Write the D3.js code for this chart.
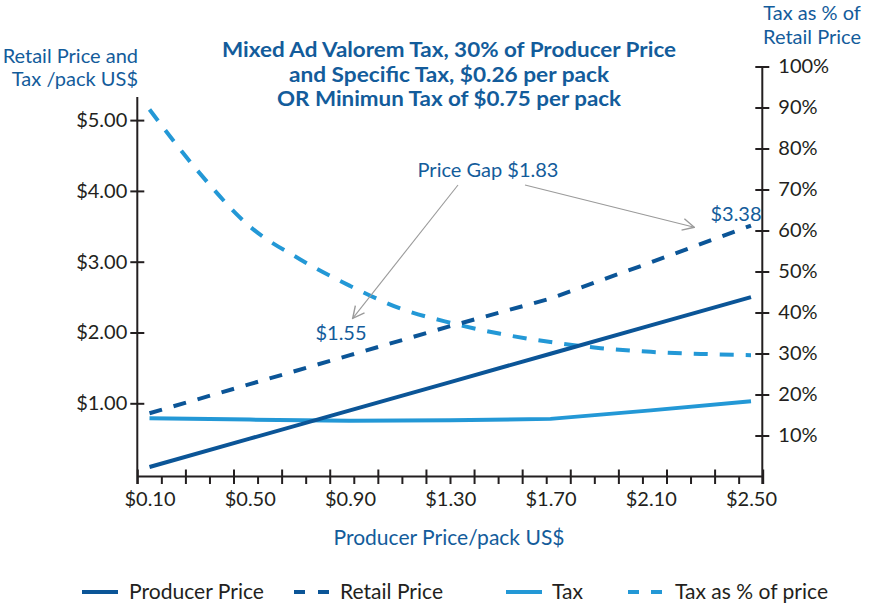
<!DOCTYPE html>
<html>
<head>
<meta charset="utf-8">
<script src="https://cdn.jsdelivr.net/npm/d3@7"></script>
<style>
  html, body { margin: 0; padding: 0; background: #ffffff; }
  svg { display: block; font-family: Lato, "Open Sans", sans-serif; }
</style>
</head>
<body>
<svg id="chart" width="872" height="608"></svg>
<script>
// ---------- data ----------
const producerPrices = [0.10, 0.50, 0.90, 1.30, 1.70, 2.10, 2.50];
const producerPrice  = [0.10, 0.50, 0.90, 1.30, 1.70, 2.10, 2.50];
const retailPrice    = [0.86, 1.27, 1.68, 2.09, 2.48, 2.99, 3.51];
const taxValue       = [0.79, 0.77, 0.755, 0.76, 0.78, 0.90, 1.03];
const pctPrices      = [0.10, 0.30, 0.50, 0.70, 0.90, 1.10, 1.30, 1.50, 1.70, 1.90, 2.10, 2.30, 2.50];
const taxPercent     = [89.5, 74, 61, 53, 46.5, 41, 37.5, 34.8, 32.8, 31.3, 30.4, 29.9, 29.6];
const xTickLabels    = [0.10, 0.50, 0.90, 1.30, 1.70, 2.10, 2.50];
const leftTicks      = [1, 2, 3, 4, 5];
const rightTicks     = [10, 20, 30, 40, 50, 60, 70, 80, 90, 100];
const seriesNames    = ["Producer Price", "Retail Price", "Tax", "Tax as % of price"];
const titleLines     = ["Mixed Ad Valorem Tax, 30% of Producer Price",
                        "and Specific Tax, $0.26 per pack",
                        "OR Minimun Tax of $0.75 per pack"];
const titleWidths    = [454, 320, 344];

// ---------- styles ----------
const DARK = "#0b5597", LIGHT = "#2398d6", TXT = "#135c9b", INK = "#231f20", GREY = "#9a9a9a";

const svg = d3.select("#chart");

// ---------- scales ----------
const x  = d3.scaleLinear().domain([0.10, 2.50]).range([149.5, 751]);
const yL = d3.scaleLinear().domain([0, 5]).range([474.1, 120.1]);
const yR = d3.scaleLinear().domain([0, 100]).range([476.5, 66.5]);
const tickIdx = d3.scaleLinear().domain([0, 26]).range([137.3, 762.7]);

const axisLeftX = 137.3, axisRightX = 762.3, axisY = 476.5;

// ---------- axes ----------
const gL = svg.append("g").attr("transform", `translate(${axisLeftX},0)`)
  .call(d3.axisLeft(yL).tickValues(leftTicks).tickFormat(d => "$" + d.toFixed(2)).tickSizeOuter(0));
gL.select(".domain").remove();
gL.append("line").attr("x1", 0).attr("x2", 0).attr("y1", 97).attr("y2", 484)
  .attr("stroke", INK).attr("stroke-width", 2);
gL.selectAll(".tick line").attr("x1", 7).attr("x2", -7).attr("stroke", INK).attr("stroke-width", 2);
gL.selectAll(".tick text").attr("x", -10).attr("fill", INK)
  .style("font-size", "20px").style("font-family", "Lato, sans-serif");

const gR = svg.append("g").attr("transform", `translate(${axisRightX},0)`)
  .call(d3.axisRight(yR).tickValues(rightTicks).tickFormat(d => d + "%").tickSizeOuter(0));
gR.select(".domain").remove();
gR.append("line").attr("x1", 0).attr("x2", 0).attr("y1", yR(100)).attr("y2", 484)
  .attr("stroke", INK).attr("stroke-width", 2);
gR.selectAll(".tick line").attr("x1", -7).attr("x2", 7).attr("stroke", INK).attr("stroke-width", 2);
gR.selectAll(".tick text").attr("x", 16).attr("fill", INK)
  .style("font-size", "20px").style("font-family", "Lato, sans-serif");

const gXT = svg.append("g").attr("transform", `translate(0,${axisY})`)
  .call(d3.axisBottom(tickIdx).tickValues(d3.range(27)).tickFormat("").tickSizeOuter(0));
gXT.select(".domain").remove();
gXT.append("line").attr("x1", tickIdx(0)).attr("x2", tickIdx(26)).attr("y1", 0).attr("y2", 0)
  .attr("stroke", INK).attr("stroke-width", 2);
gXT.selectAll(".tick line")
  .attr("y1", d => d % 2 === 0 ? -7 : 0).attr("y2", 7.5)
  .attr("stroke", INK).attr("stroke-width", 2);

const gXL = svg.append("g").attr("transform", `translate(0,${axisY})`)
  .call(d3.axisBottom(x).tickValues(xTickLabels).tickFormat(d => "$" + d.toFixed(2)).tickSize(0));
gXL.select(".domain").remove();
gXL.selectAll(".tick text").attr("y", 15).attr("fill", INK)
  .style("font-size", "20px").style("font-family", "Lato, sans-serif");

// ---------- lines ----------
const rows = producerPrices.map((p, i) => ({ p, prod: producerPrice[i], retail: retailPrice[i], tax: taxValue[i] }));
const pctRows = pctPrices.map((p, i) => ({ p, v: taxPercent[i] }));

const plot = svg.append("g").attr("fill", "none").attr("stroke-width", 4);

plot.append("path").datum(pctRows)
  .attr("d", d3.line().x(d => x(d.p)).y(d => yR(d.v)).curve(d3.curveMonotoneX))
  .attr("stroke", LIGHT).attr("stroke-dasharray", "14,12");

plot.append("path").datum(rows)
  .attr("d", d3.line().x(d => x(d.p)).y(d => yL(d.tax)))
  .attr("stroke", LIGHT);

plot.append("path").datum(rows)
  .attr("d", d3.line().x(d => x(d.p)).y(d => yL(d.retail)))
  .attr("stroke", DARK).attr("stroke-dasharray", "13,12");

plot.append("path").datum(rows)
  .attr("d", d3.line().x(d => x(d.p)).y(d => yL(d.prod)))
  .attr("stroke", DARK);

// ---------- titles ----------
const title = svg.append("text").attr("text-anchor", "middle").attr("fill", TXT)
  .style("font-weight", "bold").style("font-size", "21px");
title.selectAll("tspan").data(titleLines).join("tspan")
  .attr("x", 449).attr("y", (d, i) => 57 + i * 24.5)
  .attr("textLength", (d, i) => titleWidths[i]).attr("lengthAdjust", "spacingAndGlyphs")
  .text(d => d);

const lt = svg.append("text").attr("text-anchor", "end").attr("fill", TXT).style("font-size", "20px");
lt.append("tspan").attr("x", 138).attr("y", 63).text("Retail Price and");
lt.append("tspan").attr("x", 138).attr("y", 86).text("Tax /pack US$");

const rt = svg.append("text").attr("text-anchor", "middle").attr("fill", TXT).style("font-size", "20px");
rt.append("tspan").attr("x", 812).attr("y", 20).text("Tax as % of");
rt.append("tspan").attr("x", 812).attr("y", 44).text("Retail Price");

svg.append("text").attr("x", 449).attr("y", 545).attr("text-anchor", "middle")
  .attr("fill", TXT).style("font-size", "21px").attr("textLength", 231).attr("lengthAdjust", "spacingAndGlyphs")
  .text("Producer Price/pack US$");

// ---------- annotations ----------
svg.append("defs").append("marker").attr("id", "arr")
  .attr("viewBox", "0 0 12 12").attr("refX", 11).attr("refY", 6)
  .attr("markerWidth", 14).attr("markerHeight", 14).attr("markerUnits", "userSpaceOnUse")
  .attr("orient", "auto")
  .append("path").attr("d", "M1,1 L11,6 L1,11").attr("fill", "none").attr("stroke", GREY).attr("stroke-width", 1.2);

const ann = svg.append("g").attr("stroke", GREY).attr("stroke-width", 1.1);
ann.append("line").attr("x1", 458).attr("y1", 185).attr("x2", 352.7).attr("y2", 318.3).attr("marker-end", "url(#arr)");
ann.append("line").attr("x1", 525).attr("y1", 185).attr("x2", 694.3).attr("y2", 227.3).attr("marker-end", "url(#arr)");

svg.append("text").attr("x", 488).attr("y", 177).attr("text-anchor", "middle")
  .attr("fill", TXT).style("font-size", "20px").text("Price Gap $1.83");
svg.append("text").attr("x", 341).attr("y", 340).attr("text-anchor", "middle")
  .attr("fill", TXT).style("font-size", "20px").text("$1.55");
svg.append("text").attr("x", 736).attr("y", 221).attr("text-anchor", "middle")
  .attr("fill", TXT).style("font-size", "20px").text("$3.38");

// ---------- legend ----------
const legendItems = [
  { name: seriesNames[0], color: DARK,  dash: null,    lx1: 82,  lx2: 118, tx: 129, w: 135 },
  { name: seriesNames[1], color: DARK,  dash: "11,13", lx1: 294, lx2: 329, tx: 340, w: 103 },
  { name: seriesNames[2], color: LIGHT, dash: null,    lx1: 506, lx2: 542, tx: 552, w: 31 },
  { name: seriesNames[3], color: LIGHT, dash: "11,12", lx1: 628, lx2: 663, tx: 675, w: 153 }
];
const lg = svg.append("g");
const li = lg.selectAll("g").data(legendItems).join("g");
li.append("line").attr("x1", d => d.lx1).attr("x2", d => d.lx2).attr("y1", 592).attr("y2", 592)
  .attr("stroke", d => d.color).attr("stroke-width", 4).attr("stroke-dasharray", d => d.dash);
li.append("text").attr("x", d => d.tx).attr("y", 599).attr("fill", INK)
  .style("font-size", "21px").attr("textLength", d => d.w).attr("lengthAdjust", "spacingAndGlyphs")
  .text(d => d.name);
</script>
</body>
</html>
